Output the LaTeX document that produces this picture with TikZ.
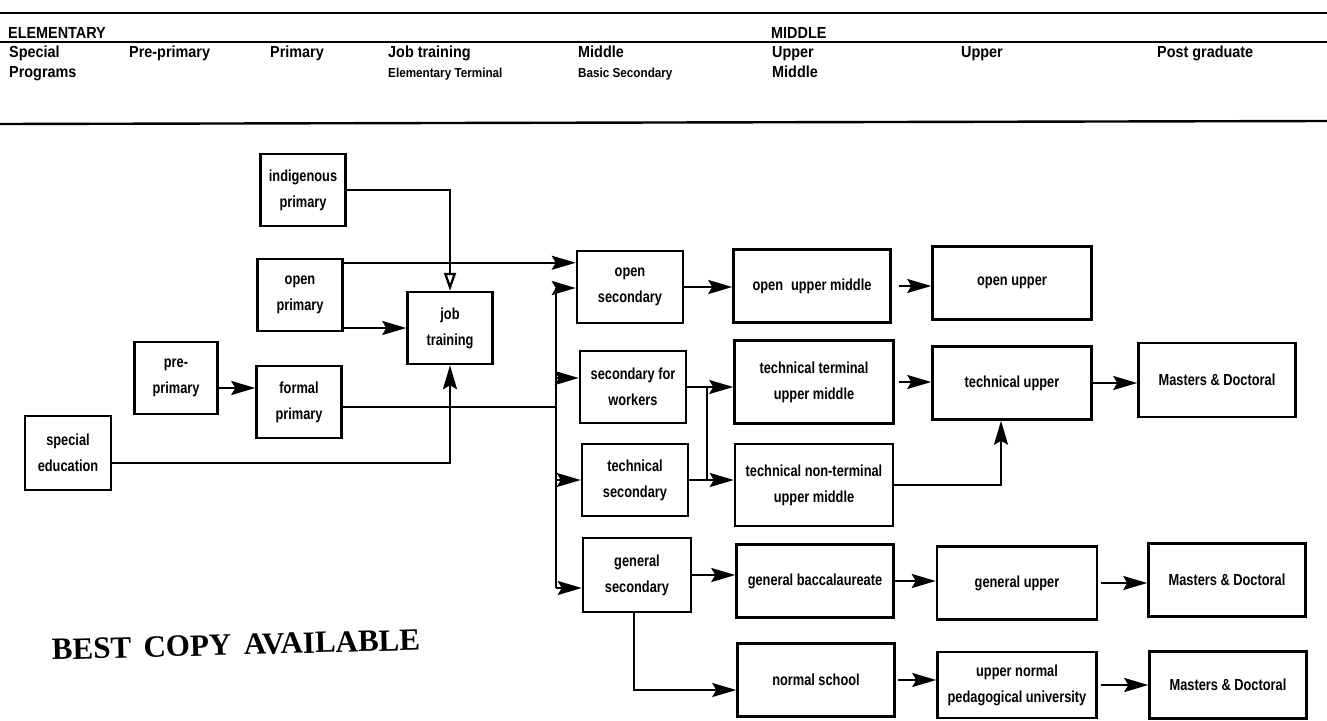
\documentclass[tikz,border=0pt]{standalone}
\usepackage{fontspec}
\newfontfamily\boxfont[FakeStretch=0.8]{Liberation Sans}
\newfontfamily\hdrfont[FakeStretch=0.9]{Liberation Sans}
\newfontfamily\stampfont{Liberation Serif}
\usetikzlibrary{arrows.meta,positioning}

\begin{document}
\begin{tikzpicture}[x=1pt, y=-1pt,
  box/.style={rectangle, draw, line width=2.5pt, align=center, inner sep=2pt,
              font=\boxfont\bfseries\fontsize{16}{26}\selectfont},
  boxa/.style={box, minimum width=85pt, minimum height=72pt},
  boxb/.style={box, minimum width=106pt, minimum height=72pt},
  boxc/.style={box, minimum width=157pt, minimum height=73pt},
  hlbl/.style={anchor=base west, inner sep=0pt, font=\hdrfont\bfseries\fontsize{16}{19}\selectfont},
  hsub/.style={anchor=base west, inner sep=0pt, font=\hdrfont\bfseries\fontsize{13}{15}\selectfont},
  rule/.style={line width=2.4pt},
  link/.style={line width=2.3pt},
  arr/.style={link, -{Stealth[length=24pt, width=14pt, inset=4pt]}},
  oarr/.style={link, -{Triangle[open, length=18pt, width=12pt, fill=white]}},
]
\useasboundingbox (0,0) rectangle (1327,720);
\fill[white] (0,0) rectangle (1327,720);

\draw[rule] (0,13) -- (1327,13);
\draw[rule] (0,42) -- (1327,42);
\draw[rule] (0,124) -- (1327,121);

\node[hlbl] (elem) at (8,38) {ELEMENTARY};
\node[hlbl] (midl) at (771,38) {MIDDLE};

\node[hlbl] (hspc) at (9,57) {Special};
\node[hlbl] (hpre) at (129,57) {Pre-primary};
\node[hlbl] (hpri) at (270,57) {Primary};
\node[hlbl] (hjob) at (388,57) {Job training};
\node[hlbl] (hmid) at (578,57) {Middle};
\node[hlbl] (hupm) at (772,57) {Upper};
\node[hlbl] (hupp) at (961,57) {Upper};
\node[hlbl] (hpst) at (1157,57) {Post graduate};
\node[hlbl] (hprg) at (9,77) {Programs};
\node[hsub] (hetm) at (388,77) {Elementary Terminal};
\node[hsub] (hbsc) at (578,77) {Basic Secondary};
\node[hlbl] (hupm2) at (772,77) {Middle};

\node[boxa] (indig) at (303,190) {indigenous\\primary};
\node[boxa] (oprim) at (300,295) {open\\primary};
\node[boxa] (jobt) at (450,328) {job\\training};
\node[boxa, minimum width=83pt] (pprim) at (176,378) {pre-\\primary};
\node[boxa] (fprim) at (299,402) {formal\\primary};
\node[boxa, minimum width=86pt, minimum height=74pt] (sped) at (68,453) {special\\education};

\node[boxb] (osec) at (630,287) {open\\secondary};
\node[boxb] (swork) at (633,387) {secondary for\\workers};
\node[boxb] (tsec) at (635,480) {technical\\secondary};
\node[boxb, minimum width=108pt, minimum height=74pt] (gsec) at (637,575) {general\\secondary};

\node[boxc] (oupm) at (812,286) {open\enspace upper middle};
\node[boxc, minimum width=159pt, minimum height=83pt] (ttum) at (814,382) {technical terminal\\upper middle};
\node[boxc, minimum width=158pt, minimum height=82pt] (tnum) at (814,485) {technical non-terminal\\upper middle};
\node[boxc] (gbac) at (815,581) {general baccalaureate};
\node[boxc] (nsch) at (816,680) {normal school};

\node[boxc, minimum width=159pt] (oupp) at (1012,283) {open upper};
\node[boxc, minimum width=159pt] (tupp) at (1012,383) {technical upper};
\node[boxc, minimum width=160pt] (gupp) at (1017,583) {general upper};
\node[boxc, minimum width=159pt, minimum height=66pt] (unor) at (1017,685) {upper normal\\pedagogical university};

\node[boxc, minimum height=74pt] (mast1) at (1217,380) {Masters \& Doctoral};
\node[boxc] (mast2) at (1227,580) {Masters \& Doctoral};
\node[boxc, minimum height=67pt] (mast3) at (1228,685) {Masters \& Doctoral};

\coordinate (tk) at (556,288);
\coordinate (tkb) at (556,588);
\coordinate (sj) at (707,387);

\draw[oarr] (indig.east) -| (jobt.north);
\draw[arr] ([yshift=-5pt]oprim.north east) -- ([yshift=-5pt]oprim.north east -| osec.west);
\draw[arr] (oprim.east |- jobt.west) -- (jobt.west);
\draw[arr] ([yshift=-10pt]pprim.east) -- ([yshift=-10pt]pprim.east -| fprim.west);
\draw[link] ([yshift=-5pt]fprim.east) -- ([yshift=-5pt]fprim.east -| tk);
\draw[arr] ([yshift=-10pt]sped.east) -| (jobt.south);

\draw[link] (tk) -- (tkb);
\draw[arr] (tk) -- (tk -| osec.west);
\draw[arr] ([yshift=9pt]swork.west -| tk) -- ([yshift=9pt]swork.west);
\draw[arr] (tsec.west -| tk) -- (tsec.west);
\draw[arr] (tkb) -- (tkb -| gsec.west);

\draw[arr] (osec.east) -- (osec.east -| oupm.west);
\draw[arr, shorten <=7pt] (oupm.east) -- (oupm.east -| oupp.west);
\draw[arr] (swork.east) -- (swork.east -| ttum.west);
\draw[link] (sj |- swork.east) -- (sj |- tsec.east);
\draw[arr] (tsec.east) -- (tsec.east -| tnum.west);
\draw[arr, shorten <=4pt] (ttum.east) -- (ttum.east -| tupp.west);
\draw[arr] (tnum.east) -| ([xshift=-11pt]tupp.south);
\draw[arr] (tupp.east) -- (tupp.east -| mast1.west);

\draw[arr] (gsec.east) -- (gsec.east -| gbac.west);
\draw[arr] (gbac.east) -- (gbac.east -| gupp.west);
\draw[arr, shorten <=3pt] (gupp.east) -- (gupp.east -| mast2.west);
\draw[arr] ([xshift=-3pt]gsec.south) |- ([yshift=-10pt]nsch.west);
\draw[arr, shorten <=2pt] (nsch.east) -- (nsch.east -| unor.west);
\draw[arr, shorten <=3pt] (unor.east) -- (unor.east -| mast3.west);

\node[font=\stampfont\bfseries\fontsize{31}{36}\selectfont, rotate=1.5] (stamp) at (236,645)
  {BEST\hspace{0.4em}COPY\hspace{0.4em}AVAILABLE};
\end{tikzpicture}
\end{document}
